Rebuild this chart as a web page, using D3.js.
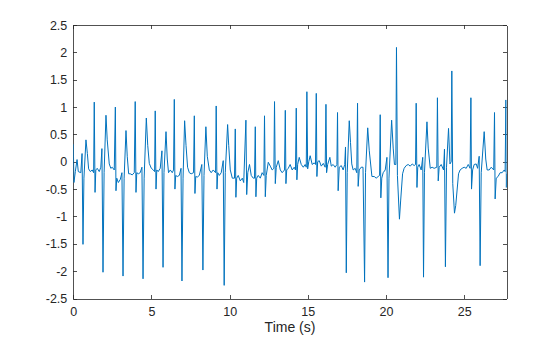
<!DOCTYPE html>
<html>
<head>
<meta charset="utf-8">
<script src="https://cdn.jsdelivr.net/npm/d3@7"></script>
<style>
html,body{margin:0;padding:0;background:#fff;}
svg{display:block;}
.axis text{font-family:Arial,"Liberation Sans",Helvetica,sans-serif;font-size:12.5px;fill:#262626;}
.axis path,.axis line{stroke:#262626;stroke-width:0.8px;shape-rendering:crispEdges;}
</style>
</head>
<body>
<svg id="chart" width="560" height="337"></svg>
<script>
// Time (s) of each read vertex
const times = [
0.00,0.04,0.13,0.24,0.32,0.48,0.56,0.62,0.68,0.81,0.90,0.98,1.09,1.21,1.30,1.34,1.39,1.44,1.53,1.66,
1.76,1.83,1.90,1.97,2.09,2.17,2.30,2.40,2.49,2.62,2.69,2.73,2.78,2.88,3.01,3.11,3.18,3.25,3.37,3.45,
3.54,3.64,3.77,3.90,3.96,4.01,4.06,4.16,4.28,4.39,4.46,4.53,4.67,4.76,4.86,4.99,5.12,5.20,5.24,5.29,
5.34,5.43,5.56,5.67,5.74,5.80,5.93,6.01,6.09,6.20,6.33,6.41,6.46,6.50,6.55,6.65,6.78,6.89,6.95,7.02,
7.12,7.21,7.31,7.42,7.54,7.69,7.74,7.78,7.83,7.93,8.06,8.22,8.29,8.36,8.48,8.57,8.70,8.82,8.95,9.10,
9.14,9.19,9.24,9.34,9.46,9.59,9.65,9.72,9.87,9.94,10.04,10.17,10.31,10.36,10.40,10.45,10.55,10.68,10.81,10.90,
11.04,11.09,11.16,11.27,11.38,11.51,11.59,11.64,11.68,11.73,11.83,11.96,12.08,12.19,12.23,12.28,12.34,12.47,12.60,12.72,
12.83,12.87,12.92,12.98,13.11,13.24,13.36,13.51,13.56,13.60,13.65,13.75,13.87,14.00,14.13,14.21,14.26,14.30,14.35,14.45,
14.58,14.71,14.83,14.90,14.94,14.99,15.06,15.15,15.28,15.41,15.49,15.54,15.58,15.63,15.73,15.86,15.99,16.11,16.16,16.20,
16.27,16.41,16.50,16.62,16.75,16.86,16.90,16.94,17.01,17.14,17.26,17.36,17.41,17.46,17.52,17.65,17.73,17.81,17.90,18.03,
18.13,18.18,18.22,18.29,18.41,18.53,18.63,18.69,18.83,18.93,19.10,19.25,19.37,19.50,19.59,19.63,19.67,19.73,19.82,19.95,
20.06,20.13,20.19,20.36,20.46,20.54,20.63,20.67,20.73,20.86,20.94,21.06,21.16,21.29,21.42,21.55,21.68,21.80,21.89,21.93,
21.98,22.03,22.12,22.25,22.35,22.40,22.46,22.62,22.70,22.83,22.95,23.08,23.25,23.29,23.34,23.40,23.53,23.68,23.74,23.80,
23.87,24.00,24.09,24.17,24.21,24.27,24.38,24.46,24.64,24.74,24.87,25.00,25.13,25.26,25.38,25.43,25.47,25.54,25.64,25.77,
25.86,25.96,26.02,26.09,26.28,26.38,26.47,26.60,26.73,26.89,26.94,26.98,27.05,27.17,27.30,27.43,27.56,27.62,27.67,27.70,
27.72
];
// Signal amplitude at each vertex
const signal = [
0.32,-0.38,-0.18,0.04,-0.18,-0.2,0.15,-1.51,-0.3,0.4,0.15,-0.13,-0.18,-0.15,-0.2,1.09,-0.56,-0.15,-0.12,-0.18,
-0.1,0.24,-2.02,-0.2,0.85,0.4,-0.04,-0.12,-0.1,-0.15,1.0,-0.53,-0.3,-0.38,-0.32,-0.2,-2.09,-0.3,0.57,0.1,
-0.22,-0.22,-0.24,-0.2,1.1,-0.56,-0.2,-0.22,-0.2,-0.1,-2.14,-0.3,0.8,0.3,-0.03,-0.12,-0.15,-0.18,0.93,-0.5,
-0.15,-0.18,-0.12,0.2,-1.93,-0.2,0.55,0.05,-0.2,-0.15,-0.2,-0.15,1.14,-0.5,-0.25,-0.27,-0.25,-0.12,-2.18,-0.3,
0.75,0.3,-0.1,-0.2,-0.22,-0.2,0.84,-0.58,-0.27,-0.28,-0.25,-0.05,-1.98,-0.25,0.64,0.1,-0.15,-0.2,-0.15,-0.2,
1.02,-0.5,-0.2,-0.25,-0.2,0.02,-2.26,-0.2,0.68,0.3,-0.15,-0.3,-0.3,0.6,-0.65,-0.3,-0.25,-0.35,-0.3,-0.38,
0.76,-0.6,-0.2,-0.05,-0.25,-0.3,-0.3,0.64,-0.64,-0.3,-0.25,-0.3,-0.2,-0.25,0.84,-0.64,-0.25,-0.01,-0.08,-0.15,
-0.12,1.1,-0.4,-0.1,0.02,-0.15,-0.2,-0.15,0.94,-0.4,-0.15,-0.12,-0.05,-0.15,-0.1,-0.15,0.98,-0.33,-0.05,0.08,
-0.05,-0.1,-0.05,-0.1,1.28,-0.13,0.0,0.11,-0.05,-0.02,-0.05,1.25,-0.27,0.0,0.02,-0.08,-0.03,-0.1,1.05,-0.2,
-0.05,0.08,-0.08,-0.05,-0.1,-0.05,0.9,-0.53,-0.1,-0.07,-0.15,-0.05,0.27,-2.03,-0.2,0.75,0.35,-0.04,-0.15,-0.12,
-0.2,1.07,-0.45,-0.15,-0.1,-0.1,-2.2,-0.2,0.62,0.2,-0.27,-0.27,-0.3,-0.27,-0.25,0.86,-0.66,-0.3,-0.2,-0.15,
0.08,-2.12,-0.3,0.76,0.25,-0.05,-0.05,2.09,-0.25,-1.05,-0.7,-0.22,-0.12,-0.07,-0.05,-0.08,-0.04,-0.07,-0.05,1.07,
-0.47,-0.1,-0.05,-0.15,0.08,-2.11,-0.2,0.73,0.25,-0.12,-0.1,-0.12,-0.1,1.17,-0.35,-0.1,-0.05,-0.15,0.23,-1.92,
-0.1,0.61,-0.04,0.0,1.66,-0.4,-0.94,-0.8,-0.22,-0.15,-0.12,-0.1,-0.12,-0.05,-0.12,1.17,-0.5,-0.15,-0.05,-0.04,
-0.12,0.1,-1.9,-0.2,0.55,0.05,-0.15,-0.15,-0.1,-0.15,0.9,-0.68,-0.3,-0.27,-0.2,-0.2,-0.15,-0.18,1.13,-0.47,
-0.22
];
const xTicks = [0,5,10,15,20,25];
const yTicks = [-2.5,-2,-1.5,-1,-0.5,0,0.5,1,1.5,2,2.5];
const xLabel = "Time (s)";

const data = times.map((t,i)=>({t, v: signal[i]}));

const W = 560, H = 337;
const m = {left:73.3, right:W-506.7, top:25, bottom:H-298.5};
const svg = d3.select("#chart");
const x = d3.scaleLinear().domain([0, 27.72]).range([m.left, W-m.right]);
const y = d3.scaleLinear().domain([-2.5, 2.5]).range([H-m.bottom, m.top]);
const fmt = d => String(d);

svg.append("g").attr("class","axis").attr("transform",`translate(0,${H-m.bottom})`)
  .call(d3.axisBottom(x).tickValues(xTicks).tickFormat(fmt).tickSizeInner(-4).tickSizeOuter(0).tickPadding(9));
svg.append("g").attr("class","axis").attr("transform",`translate(0,${m.top})`)
  .call(d3.axisTop(x).tickValues(xTicks).tickFormat("").tickSizeInner(-4).tickSizeOuter(0));
svg.append("g").attr("class","axis").attr("transform",`translate(${m.left},0)`)
  .call(d3.axisLeft(y).tickValues(yTicks).tickFormat(fmt).tickSizeInner(-4).tickSizeOuter(0).tickPadding(6));
svg.append("g").attr("class","axis").attr("transform",`translate(${W-m.right},0)`)
  .call(d3.axisRight(y).tickValues(yTicks).tickFormat("").tickSizeInner(-4).tickSizeOuter(0));

svg.append("defs").append("clipPath").attr("id","clip").append("rect")
  .attr("x", m.left).attr("y", m.top).attr("width", W-m.left-m.right).attr("height", H-m.top-m.bottom);

svg.append("path").datum(data)
  .attr("clip-path","url(#clip)")
  .attr("fill","none").attr("stroke","#0072BD").attr("stroke-width",1).attr("stroke-linejoin","round")
  .attr("d", d3.line().x(d=>x(d.t)).y(d=>y(d.v)));

svg.append("text").attr("x",(m.left+W-m.right)/2).attr("y",332)
  .attr("text-anchor","middle")
  .style("font-family","Arial,'Liberation Sans',Helvetica,sans-serif").style("font-size","14px").style("fill","#262626")
  .text(xLabel);
</script>
</body>
</html>
